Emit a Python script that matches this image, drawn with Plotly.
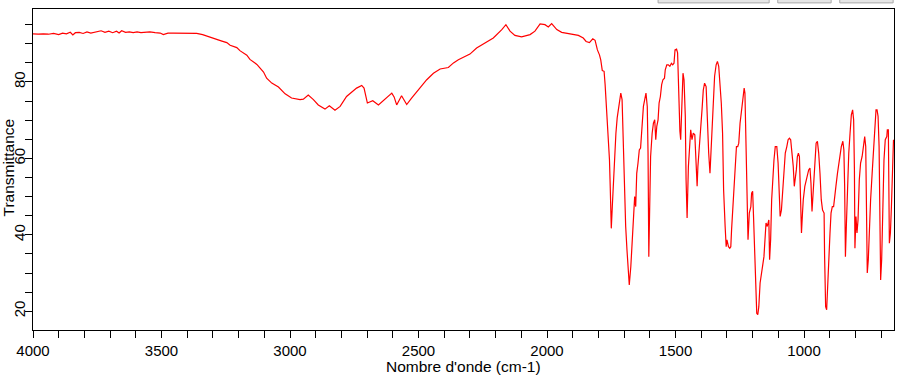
import plotly.graph_objects as go

wavenumber = [
    4000, 3980, 3960, 3940, 3920, 3900, 3885, 3870, 3855, 3845, 3835, 3820, 3805, 3790, 3775, 3760,
    3745, 3735, 3720, 3705, 3690, 3675, 3665, 3655, 3640, 3625, 3610, 3595, 3580, 3565, 3545, 3525,
    3505, 3493, 3475, 3454, 3430, 3400, 3363, 3340, 3324, 3305, 3285, 3265, 3246, 3233, 3207, 3195,
    3168, 3156, 3129, 3117, 3103, 3091, 3071, 3045, 3019, 2994, 2961, 2948, 2929, 2909, 2890, 2864,
    2847, 2825, 2805, 2780, 2760, 2741, 2721, 2712, 2699, 2678, 2656, 2630, 2604, 2595, 2585, 2566,
    2546, 2527, 2494, 2468, 2442, 2416, 2384, 2364, 2345, 2326, 2300, 2274, 2241, 2209, 2176, 2160,
    2144, 2125, 2099, 2066, 2047, 2027, 2008, 1995, 1982, 1962, 1943, 1924, 1904, 1878, 1859, 1848,
    1835, 1822, 1813, 1804, 1796, 1791, 1785, 1778, 1774, 1769, 1765, 1760, 1757, 1754, 1750, 1746,
    1741, 1737, 1732, 1727, 1721, 1716, 1713, 1708, 1703, 1698, 1694, 1689, 1684, 1680, 1674, 1669,
    1664, 1659, 1655, 1651, 1646, 1641, 1636, 1630, 1625, 1620, 1615, 1610, 1607, 1604, 1602, 1597,
    1591, 1586, 1581, 1577, 1573, 1568, 1564, 1559, 1554, 1549, 1543, 1540, 1534, 1528, 1522, 1516,
    1511, 1506, 1502, 1496, 1492, 1488, 1483, 1480, 1476, 1471, 1467, 1462, 1459, 1455, 1450, 1446,
    1441, 1436, 1431, 1425, 1420, 1416, 1413, 1407, 1402, 1397, 1392, 1387, 1381, 1376, 1371, 1366,
    1362, 1357, 1353, 1348, 1342, 1337, 1332, 1327, 1322, 1317, 1313, 1307, 1303, 1300, 1294, 1289,
    1285, 1282, 1278, 1274, 1268, 1263, 1258, 1254, 1249, 1244, 1239, 1233, 1230, 1226, 1222, 1218,
    1213, 1207, 1204, 1200, 1197, 1193, 1188, 1184, 1180, 1176, 1171, 1166, 1161, 1156, 1152, 1148,
    1143, 1137, 1134, 1130, 1126, 1122, 1117, 1112, 1106, 1101, 1097, 1093, 1088, 1083, 1078, 1073,
    1067, 1062, 1057, 1052, 1047, 1042, 1038, 1034, 1030, 1026, 1022, 1018, 1014, 1010, 1006, 1003,
    997, 992, 987, 982, 977, 973, 969, 965, 961, 957, 953, 948, 943, 938, 933, 928,
    922, 920, 916, 912, 908, 904, 899, 895, 890, 885, 881, 876, 870, 865, 860, 855,
    849, 845, 842, 839, 835, 831, 826, 821, 816, 811, 807, 804, 802, 798, 794, 790,
    785, 780, 774, 769, 764, 760, 756, 754, 750, 746, 741, 735, 730, 725, 720, 716,
    712, 708, 704, 702, 698, 694, 689, 684, 678, 676, 672, 668, 664, 660, 656, 652,
]

transmittance = [
    92.6, 92.5, 92.6, 92.5, 92.7, 92.4, 92.8, 92.6, 93.0, 92.3, 92.9, 93.0, 92.7, 93.1, 92.8, 93.1,
    93.3, 93.4, 93.0, 93.3, 92.9, 93.3, 92.8, 93.4, 93.0, 93.1, 92.9, 93.1, 92.9, 93.0, 93.1, 92.9,
    92.8, 92.4, 92.8, 92.8, 92.8, 92.7, 92.7, 92.4, 92.0, 91.5, 91.0, 90.7, 90.3, 89.6, 89.0, 88.2,
    87.0, 85.9, 84.6, 83.7, 82.6, 81.0, 79.7, 78.7, 76.9, 75.8, 75.4, 75.5, 76.6, 75.4, 74.0, 72.9,
    73.8, 72.6, 73.6, 76.2, 77.3, 78.4, 79.1, 78.4, 74.5, 75.1, 74.0, 75.6, 77.1, 76.1, 74.0, 76.4,
    74.1, 75.8, 78.4, 80.6, 82.3, 83.4, 83.8, 85.0, 85.8, 86.4, 87.3, 88.9, 90.2, 91.5, 93.7, 95.0,
    93.3, 92.2, 91.8, 92.4, 93.3, 95.2, 95.0, 94.4, 95.3, 93.7, 93.0, 92.8, 92.6, 92.2, 91.5, 90.6,
    90.3, 91.3, 90.9, 88.4, 87.1, 85.8, 83.0, 82.8, 79.3, 74.0, 68.8, 65.7, 59.6, 52.2, 41.7, 47.4,
    54.4, 62.2, 66.6, 70.6, 73.2, 75.4, 77.1, 75.4, 61.8, 50.0, 42.2, 36.1, 28.7, 26.9, 31.7, 38.7,
    46.5, 50.0, 47.4, 56.1, 58.8, 62.2, 62.7, 68.4, 73.6, 75.4, 77.1, 73.6, 61.4, 34.3, 45.7, 60.5,
    66.6, 69.2, 70.1, 64.9, 68.4, 70.1, 74.5, 76.2, 79.3, 80.6, 81.0, 83.2, 84.5, 84.5, 84.1, 84.9,
    84.5, 84.9, 88.4, 88.6, 87.6, 76.2, 67.1, 64.9, 75.4, 82.3, 80.6, 71.0, 54.4, 44.4, 57.9, 62.2,
    67.5, 64.9, 66.6, 66.2, 60.5, 52.7, 57.9, 63.1, 66.6, 72.7, 77.9, 79.7, 78.8, 68.4, 61.4, 56.1,
    61.4, 68.4, 76.2, 81.5, 84.5, 85.4, 84.1, 79.7, 74.5, 66.6, 51.8, 42.2, 36.9, 38.7, 36.9, 36.5,
    36.9, 41.3, 46.5, 50.9, 56.1, 63.1, 63.1, 64.0, 69.2, 72.7, 76.2, 78.4, 77.1, 66.6, 50.0, 38.7,
    45.7, 47.4, 50.9, 51.4, 45.7, 36.9, 26.5, 19.5, 19.1, 21.2, 27.4, 30.0, 32.6, 34.3, 38.7, 43.1,
    42.2, 43.9, 33.5, 38.7, 49.2, 54.4, 59.6, 63.1, 63.1, 58.8, 52.7, 44.8, 46.5, 51.8, 57.9, 61.4,
    63.1, 64.9, 65.3, 64.9, 61.4, 57.9, 52.7, 54.4, 57.0, 60.5, 61.4, 60.5, 49.2, 40.5, 45.7, 49.2,
    52.7, 54.4, 55.3, 57.0, 57.5, 53.5, 46.1, 50.9, 56.1, 61.4, 64.0, 64.5, 61.4, 56.1, 49.2, 46.5,
    45.7, 34.3, 21.2, 20.4, 27.4, 35.2, 40.5, 45.7, 47.4, 47.4, 49.2, 52.7, 56.1, 58.8, 61.4, 63.1,
    64.5, 62.2, 52.7, 34.3, 43.1, 54.4, 61.4, 66.6, 71.4, 72.7, 70.1, 57.0, 36.5, 44.8, 40.5, 43.9,
    54.4, 58.8, 60.5, 63.1, 65.7, 63.1, 45.7, 30.0, 33.5, 41.3, 49.2, 56.1, 61.4, 68.4, 72.7, 72.7,
    71.0, 63.1, 35.2, 28.2, 33.5, 45.7, 59.6, 64.9, 65.7, 67.5, 67.5, 37.8, 40.5, 47.4, 57.0, 64.9,
]

x_tick_values = [4000, 3500, 3000, 2500, 2000, 1500, 1000]
y_tick_values = [20, 40, 60, 80]
x_title = "Nombre d'onde (cm-1)"
y_title = "Transmittance"

fig = go.Figure()
fig.add_trace(go.Scatter(
    x=wavenumber, y=transmittance, mode="lines",
    line=dict(color="#ff0000", width=1.2), showlegend=False, hoverinfo="skip",
))

W, H = 899, 378
L, R, T, B = 33, 5, 9, 48
pw, ph = W - L - R, H - T - B

font = dict(family="Liberation Sans, Arial, sans-serif", size=15, color="#000000")

fig.update_layout(
    width=W, height=H,
    margin=dict(l=L, r=R, t=T, b=B),
    paper_bgcolor="white", plot_bgcolor="white",
    font=font,
    xaxis=dict(
        range=[4000, 650], showgrid=False, zeroline=False, automargin=False,
        showline=True, linecolor="black", linewidth=1, mirror=True,
        tickvals=x_tick_values, ticks="outside", ticklen=7, tickcolor="black",
        minor=dict(dtick=100, tick0=0, ticks="outside", ticklen=7, tickcolor="black", showgrid=False),
        tickfont=dict(size=15),
    ),
    yaxis=dict(
        range=[15.1, 99.1], showgrid=False, zeroline=False, automargin=False,
        showline=True, linecolor="black", linewidth=1, mirror=True,
        tickvals=y_tick_values, ticks="outside", ticklen=7, tickcolor="black", tickangle=-90,
        ticklabelstandoff=-6,
        minor=dict(dtick=5, tick0=0, ticks="outside", ticklen=7, tickcolor="black", showgrid=False),
        tickfont=dict(size=15),
    ),
    annotations=[
        dict(text=x_title, xref="paper", yref="paper",
             x=(463 - L) / pw, y=-(367 - (T + ph)) / ph,
             xanchor="center", yanchor="middle", showarrow=False, font=dict(size=15.5)),
        dict(text=y_title, xref="paper", yref="paper",
             x=(8.5 - L) / pw, y=1 - (168 - T) / ph, textangle=-90,
             xanchor="center", yanchor="middle", showarrow=False, font=dict(size=15.5)),
    ],
    shapes=[
        dict(type="rect", xref="paper", yref="paper", x0=0.726, x1=0.855, y0=1.019, y1=1.035,
             fillcolor="#e6e6e6", line=dict(color="#aaaaaa", width=1), layer="above"),
        dict(type="rect", xref="paper", yref="paper", x0=0.865, x1=0.927, y0=1.019, y1=1.035,
             fillcolor="#e6e6e6", line=dict(color="#aaaaaa", width=1), layer="above"),
        dict(type="rect", xref="paper", yref="paper", x0=0.937, x1=0.999, y0=1.019, y1=1.035,
             fillcolor="#e6e6e6", line=dict(color="#aaaaaa", width=1), layer="above"),
    ],
)

fig.write_html(
    "out.html",
    config={"displayModeBar": False},
    post_script="document.body.style.margin='0';document.body.style.overflow='hidden';",
)
